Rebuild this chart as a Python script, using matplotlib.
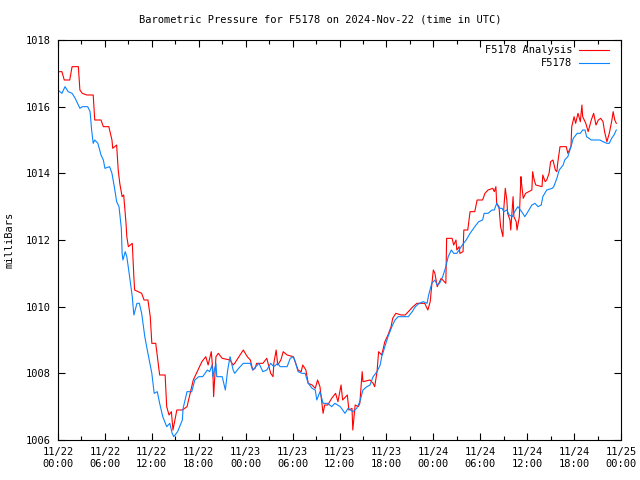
import numpy as np
import pandas as pd
import matplotlib
matplotlib.use('Agg')
import matplotlib.pyplot as plt
import matplotlib.dates as mdates

# hours since 2024-11-22 00:00 UTC, pressure in mb
ana_hours = [0.0, 0.5, 0.8, 1.5, 1.8, 2.6, 2.8, 3.1, 3.7, 4.5, 4.7, 5.5, 5.8, 6.5, 6.9, 7.0, 7.5, 7.7,
             7.9, 8.2, 8.4, 8.7, 8.8, 9.0, 9.5, 9.7, 9.8, 10.7, 11.0, 11.5, 11.8, 12.0, 12.5, 13.0, 13.7,
             13.9, 14.2, 14.5, 14.7, 15.2, 15.9, 16.5, 16.9, 17.3, 17.6, 17.9, 18.4, 18.9, 19.2, 19.6,
             19.8, 19.9, 20.2, 20.5, 21.0, 22.0, 22.4, 22.6, 23.0, 23.7, 24.2, 24.6, 24.9, 25.2, 25.4,
             26.2, 26.7, 27.2, 27.5, 27.6, 27.9, 28.1, 28.5, 28.8, 29.3, 30.1, 30.4, 30.7, 31.1, 31.3,
             31.7, 32.0, 32.5, 32.9, 33.2, 33.5, 33.9, 34.1, 34.5, 35.0, 35.5, 35.8, 36.2, 36.4, 37.0,
             37.2, 37.6, 37.7, 38.0, 38.4, 38.6, 38.9, 39.0, 39.9, 40.3, 40.5, 40.8, 41.0, 41.4, 41.8,
             42.2, 42.6, 42.8, 43.2, 43.9, 44.4, 44.8, 45.4, 45.9, 46.9, 47.3, 47.6, 47.8, 48.0, 48.2,
             48.5, 49.0, 49.6, 49.7, 50.4, 50.6, 50.9, 51.0, 51.3, 51.4, 51.8, 51.9, 52.4, 52.7, 53.3,
             53.6, 54.3, 54.6, 55.0, 55.6, 55.8, 56.0, 56.1, 56.4, 56.6, 56.9, 57.0, 57.2, 57.4, 57.5,
             57.8, 57.9, 58.2, 58.3, 58.6, 58.7, 59.0, 59.2, 59.3, 59.5, 59.8, 60.6, 60.7, 60.9, 61.1,
             61.9, 62.0, 62.3, 62.5, 62.8, 63.0, 63.3, 63.6, 63.8, 63.9, 64.2, 65.0, 65.2, 65.6, 65.7,
             66.0, 66.2, 66.5, 66.8, 67.0, 67.1, 67.5, 67.8, 68.2, 68.5, 68.8, 69.1, 69.4, 69.7, 69.9,
             70.2, 70.5, 70.8, 71.0, 71.2, 71.4]
ana_mb = [1017.05, 1017.05, 1016.8, 1016.8, 1017.2, 1017.2, 1016.5, 1016.4, 1016.35, 1016.35, 1015.6,
          1015.6, 1015.4, 1015.4, 1015.0, 1014.75, 1014.85, 1014.1, 1013.7, 1013.3, 1013.35, 1012.5,
          1012.1, 1011.8, 1011.9, 1010.9, 1010.5, 1010.4, 1010.2, 1010.2, 1009.7, 1008.9, 1008.9,
          1007.95, 1007.95, 1007.0, 1006.75, 1006.85, 1006.3, 1006.9, 1006.9, 1007.0, 1007.4, 1007.8,
          1007.95, 1008.1, 1008.35, 1008.5, 1008.25, 1008.65, 1008.1, 1007.3, 1008.5, 1008.6, 1008.45,
          1008.4, 1008.25, 1008.3, 1008.45, 1008.7, 1008.5, 1008.4, 1008.1, 1008.15, 1008.3, 1008.3,
          1008.45, 1008.0, 1007.9, 1008.3, 1008.7, 1008.25, 1008.4, 1008.65, 1008.55, 1008.5, 1008.3,
          1008.1, 1008.05, 1008.25, 1008.1, 1007.7, 1007.65, 1007.55, 1007.8, 1007.6, 1006.8, 1007.05,
          1007.05, 1007.25, 1007.4, 1007.15, 1007.65, 1007.2, 1007.35, 1006.9, 1006.95, 1006.3, 1007.05,
          1007.0, 1007.1, 1008.05, 1007.75, 1007.8, 1007.7, 1007.6, 1008.05, 1008.65, 1008.55, 1008.95,
          1009.15, 1009.4, 1009.65, 1009.8, 1009.75, 1009.75, 1009.85, 1010.0, 1010.1, 1010.1, 1009.9,
          1010.15, 1010.65, 1011.1, 1011.0, 1010.6, 1010.85, 1010.7, 1012.05, 1012.05, 1011.85, 1012.0,
          1011.7, 1011.8, 1011.6, 1011.65, 1012.3, 1012.3, 1012.85, 1012.85, 1013.2, 1013.2, 1013.4,
          1013.5, 1013.55, 1013.45, 1013.6, 1013.1, 1013.0, 1012.4, 1012.1, 1012.9, 1013.55, 1013.2,
          1012.8, 1012.6, 1012.3, 1013.3, 1012.7, 1012.55, 1012.3, 1012.7, 1013.9, 1013.65, 1013.25,
          1013.4, 1013.5, 1014.05, 1013.8, 1013.65, 1013.6, 1013.95, 1013.75, 1013.8, 1014.0, 1014.35,
          1014.4, 1014.1, 1014.05, 1014.3, 1014.8, 1014.8, 1014.6, 1014.8, 1015.4, 1015.7, 1015.5,
          1015.8, 1015.55, 1016.05, 1015.7, 1015.5, 1015.25, 1015.6, 1015.8, 1015.45, 1015.6, 1015.65,
          1015.55, 1015.25, 1014.95, 1015.2, 1015.55, 1015.85, 1015.6, 1015.5]

obs_hours = [0.0, 0.5, 0.9, 1.3, 1.8, 2.2, 2.6, 2.8, 3.1, 3.8, 4.1, 4.3, 4.5, 4.7, 5.1, 5.5, 5.8, 6.0,
             6.6, 6.9, 7.2, 7.5, 7.8, 8.1, 8.2, 8.3, 8.6, 8.8, 9.1, 9.5, 9.7, 10.1, 10.4, 10.7, 11.1,
             11.5, 12.0, 12.3, 12.7, 13.0, 13.4, 13.9, 14.3, 14.6, 14.8, 15.3, 15.9, 16.0, 16.5, 17.1,
             17.5, 18.0, 18.5, 19.1, 19.4, 19.7, 19.8, 20.2, 20.3, 21.0, 21.4, 21.7, 22.0, 22.4, 22.6,
             23.1, 23.7, 24.6, 24.9, 25.3, 25.7, 26.2, 26.7, 27.2, 27.6, 28.1, 28.4, 29.3, 29.7, 30.1,
             30.4, 30.7, 31.2, 31.6, 32.0, 32.5, 32.9, 33.1, 33.5, 33.9, 34.5, 35.0, 35.4, 36.1, 36.7,
             37.1, 37.7, 38.2, 38.6, 39.0, 39.5, 39.9, 40.3, 40.8, 41.2, 41.4, 41.8, 42.2, 42.7, 43.1,
             43.5, 44.8, 45.3, 45.7, 46.2, 46.7, 47.2, 47.4, 47.8, 48.2, 48.5, 48.8, 49.2, 49.6, 49.9,
             50.3, 50.6, 51.0, 51.3, 51.7, 52.2, 52.7, 53.3, 53.8, 54.3, 54.5, 55.0, 55.5, 55.8, 56.1,
             56.4, 56.8, 57.0, 57.4, 57.7, 58.1, 58.4, 58.8, 59.3, 59.7, 60.1, 60.6, 61.0, 61.4, 61.8,
             62.0, 62.5, 63.2, 63.4, 63.8, 64.1, 64.6, 64.8, 65.2, 65.6, 65.9, 66.4, 66.8, 67.1, 67.4,
             67.6, 68.2, 69.3, 69.7, 70.2, 70.5, 70.8, 71.1, 71.4]
obs_mb = [1016.5, 1016.4, 1016.6, 1016.45, 1016.4, 1016.25, 1016.05, 1015.95, 1016.0, 1016.0, 1015.85,
          1015.3, 1014.9, 1015.0, 1014.9, 1014.55, 1014.4, 1014.15, 1014.2, 1014.0, 1013.6, 1013.15,
          1013.0, 1012.35, 1011.6, 1011.4, 1011.65, 1011.5, 1011.0, 1010.3, 1009.75, 1010.1, 1010.1,
          1009.8, 1009.1, 1008.6, 1008.0, 1007.4, 1007.45, 1007.1, 1006.7, 1006.4, 1006.5, 1006.2,
          1006.1, 1006.25, 1006.6, 1006.95, 1007.45, 1007.45, 1007.8, 1007.9, 1007.9, 1008.1, 1008.05,
          1008.25, 1007.9, 1008.3, 1007.9, 1007.9, 1007.5, 1008.1, 1008.5, 1008.1, 1008.0, 1008.15,
          1008.3, 1008.3, 1008.1, 1008.2, 1008.3, 1008.05, 1008.1, 1008.3, 1008.2, 1008.3, 1008.2,
          1008.2, 1008.45, 1008.5, 1008.3, 1008.05, 1008.0, 1008.0, 1007.7, 1007.55, 1007.5, 1007.2,
          1007.45, 1007.1, 1007.1, 1007.0, 1007.1, 1007.0, 1006.8, 1006.95, 1006.85, 1006.95, 1007.15,
          1007.5, 1007.6, 1007.65, 1007.9, 1008.05, 1008.25, 1008.5, 1008.8, 1009.1, 1009.4, 1009.6,
          1009.7, 1009.7, 1009.85, 1010.0, 1010.1, 1010.15, 1010.1, 1010.35, 1010.7, 1010.8, 1010.65,
          1010.7, 1010.9, 1011.2, 1011.5, 1011.7, 1011.6, 1011.6, 1011.7, 1011.85, 1012.0, 1012.2,
          1012.4, 1012.55, 1012.6, 1012.8, 1012.8, 1012.9, 1012.9, 1013.1, 1012.95, 1012.95, 1012.85,
          1012.9, 1012.75, 1012.7, 1012.85, 1013.0, 1012.85, 1012.7, 1012.85, 1013.05, 1013.1, 1013.0,
          1013.05, 1013.3, 1013.5, 1013.55, 1013.6, 1013.85, 1014.1, 1014.25, 1014.4, 1014.5, 1014.8,
          1015.05, 1015.2, 1015.2, 1015.3, 1015.3, 1015.1, 1015.0, 1015.0, 1014.95, 1014.9, 1014.9,
          1015.05, 1015.15, 1015.3]

y_ticks = [1006, 1008, 1010, 1012, 1014, 1016, 1018]
title = "Barometric Pressure for F5178 on 2024-Nov-22 (time in UTC)"

start = pd.Timestamp('2024-11-22 00:00')
end = pd.Timestamp('2024-11-25 00:00')
ana_t = start + pd.to_timedelta(ana_hours, unit='h')
obs_t = start + pd.to_timedelta(obs_hours, unit='h')

plt.rcParams['font.family'] = ['DejaVu Sans Mono']
plt.rcParams['font.size'] = 7.5

fig = plt.figure(figsize=(6.4, 4.8), dpi=100)
ax = fig.add_axes([58/640, 40/480, 563/640, 400/480])

ax.plot(ana_t, ana_mb, color='#ff0000', lw=0.8, label='F5178 Analysis')
ax.plot(obs_t, obs_mb, color='#0a84ff', lw=0.8, label='F5178')

ax.set_xlim(start, end)
ax.set_ylim(1006, 1018)
ax.set_yticks(y_ticks)
ax.xaxis.set_major_locator(mdates.HourLocator(byhour=[0, 6, 12, 18]))
ax.xaxis.set_minor_locator(mdates.HourLocator(byhour=[3, 9, 15, 21]))
ax.xaxis.set_major_formatter(mdates.DateFormatter('%m/%d\n%H:%M'))

ax.tick_params(which='both', direction='in', top=True, right=True, width=0.8)
ax.tick_params(which='major', length=5, pad=5)
ax.tick_params(which='minor', length=3)
for s in ax.spines.values():
    s.set_linewidth(0.8)

# legend sits a bit in from the right frame, text right-aligned before the sample line
ax.legend(loc='upper right', bbox_to_anchor=(1 - 7/563, 1), frameon=False, markerfirst=False,
          handlelength=2.9, handletextpad=0.6, labelspacing=0.3, borderaxespad=0.3, borderpad=0.2)

fig.text(0.5, 1 - 19/480, title, ha='center', va='center')
fig.text(10/640, 0.5, 'milliBars', rotation=90, ha='center', va='center')

fig.savefig('out.png', dpi=100)
